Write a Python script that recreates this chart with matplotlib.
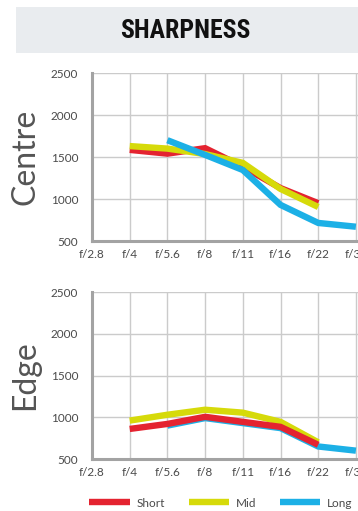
import matplotlib
matplotlib.use("Agg")
import matplotlib.pyplot as plt
from matplotlib.patches import Rectangle
from matplotlib.lines import Line2D
import numpy as np

apertures = ["f/2.8", "f/4", "f/5.6", "f/8", "f/11", "f/16", "f/22", "f/32"]
yticks = [500, 1000, 1500, 2000, 2500]

# Centre sharpness (None = no reading at that aperture)
centre_short = [None, 1585, 1540, 1605, 1385, 1130, 950, None]
centre_mid = [None, 1630, 1600, 1535, 1430, 1120, 905, None]
centre_long = [None, None, 1700, 1525, 1345, 930, 715, 670]

# Edge sharpness
edge_short = [None, 860, 920, 1005, 945, 885, 670, None]
edge_mid = [None, 960, 1030, 1090, 1055, 945, 700, None]
edge_long = [None, None, 900, 990, 930, 870, 650, 600]

series_names = ["Short", "Mid", "Long"]
colors = {"Short": "#e42330", "Mid": "#d6da0a", "Long": "#1cb0e6"}

W, H = 358, 511
fig = plt.figure(figsize=(W / 100, H / 100), dpi=100)
fig.patch.set_facecolor("white")

label_font = ["Lato", "DejaVu Sans"]
text_col = "#4a4a4a"

# Title band
fig.patches.append(Rectangle((16 / W, 1 - 53 / H), (W - 16) / W, 46 / H,
                             transform=fig.transFigure, facecolor="#e9ecef",
                             edgecolor="none", zorder=0))
fig.text(185 / W, 1 - 31 / H, "SHARPNESS", ha="center", va="center",
         fontsize=18.5, fontweight="bold", fontstretch="condensed",
         family=["Roboto Condensed", "Roboto", "DejaVu Sans"], color="#111111")


def to_arr(vals):
    return np.array([np.nan if v is None else v for v in vals], dtype=float)


def draw_panel(rect, data, order, ylabel, ylab_y):
    ax = fig.add_axes(rect)
    x = np.arange(len(apertures))
    for name in order:
        ax.plot(x, to_arr(data[name]), color=colors[name], lw=4.6,
                solid_capstyle="butt", solid_joinstyle="miter", zorder=3)
    ax.set_xlim(0, 7.2)
    ax.set_ylim(500, 2500)
    ax.set_xticks(x)
    ax.set_xticklabels(apertures)
    ax.set_yticks(yticks)
    ax.set_yticklabels([str(v) for v in yticks])
    ax.grid(True, color="#cbcbcb", lw=1.0, zorder=0)
    ax.tick_params(length=0, labelsize=8.5, colors=text_col)
    ax.tick_params(axis="x", pad=6)
    ax.tick_params(axis="y", pad=10)
    for lab in ax.get_xticklabels() + ax.get_yticklabels():
        lab.set_family(label_font)
    for s in ("top", "right"):
        ax.spines[s].set_visible(False)
    for s in ("left", "bottom"):
        ax.spines[s].set_color("#a3a3a3")
        ax.spines[s].set_linewidth(2.2)
    fig.text(25 / W, 1 - ylab_y / H, ylabel, rotation=90, ha="center",
             va="center", fontsize=23, color="#555555", family=label_font)
    return ax


px_per_unit = 37.7
axw = 7.2 * px_per_unit
draw_panel([92 / W, 1 - 241 / H, axw / W, 168 / H],
           {"Short": centre_short, "Mid": centre_mid, "Long": centre_long},
           ["Short", "Mid", "Long"], "Centre", 157)
draw_panel([92 / W, 1 - 459 / H, axw / W, 167 / H],
           {"Short": edge_short, "Mid": edge_mid, "Long": edge_long},
           ["Long", "Mid", "Short"], "Edge", 375)

handles = [Line2D([], [], color=colors[n], lw=4.6, solid_capstyle="butt")
           for n in series_names]
leg = fig.legend(handles, series_names, loc="center",
                 bbox_to_anchor=(221 / W, 1 - 503 / H), ncol=3, frameon=False,
                 handlelength=3.4, handletextpad=0.6, columnspacing=2.0,
                 prop={"family": label_font, "size": 8.5})
for t in leg.get_texts():
    t.set_color(text_col)

fig.savefig("out.png", dpi=100, facecolor="white")
